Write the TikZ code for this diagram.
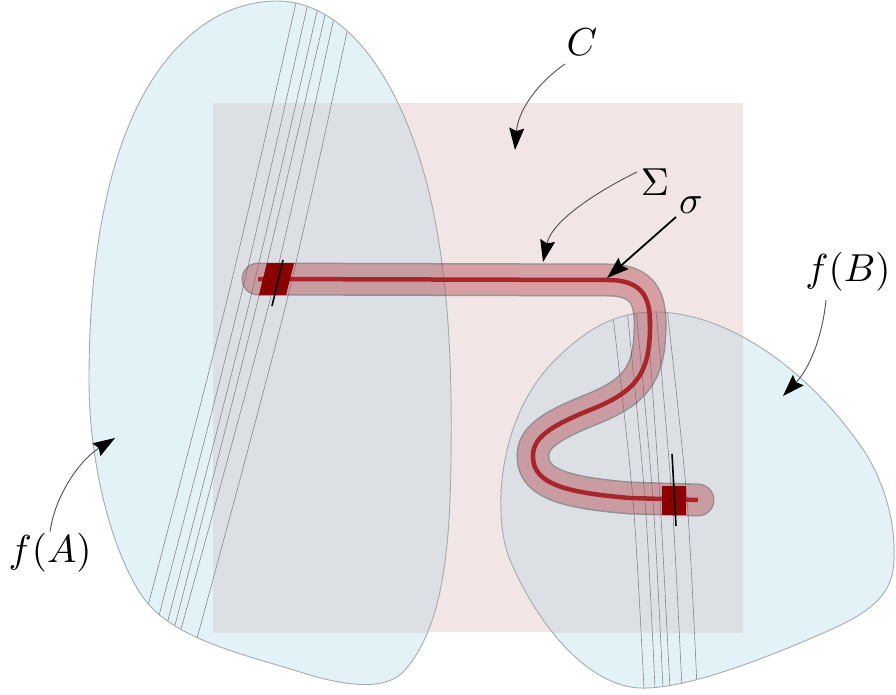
\documentclass[tikz,border=0pt]{standalone}
\usetikzlibrary{arrows.meta}
\definecolor{blobblue}{RGB}{227,242,247}
\definecolor{sqpink}{RGB}{242,229,230}
\definecolor{overlapc}{RGB}{220,224,229}
\definecolor{blobedge}{RGB}{165,170,174}
\definecolor{fibre}{RGB}{135,135,140}
\definecolor{tubefill}{RGB}{180,75,80}
\definecolor{tubeedge}{RGB}{60,45,45}
\definecolor{coreRed}{RGB}{168,38,43}
\definecolor{bandRed}{RGB}{139,0,0}
\definecolor{arrowgray}{RGB}{80,80,80}
\begin{document}
\begin{tikzpicture}[x=1pt,y=-1pt,
  lbl/.style={scale=3.9, inner sep=0pt},
  pointer/.style={draw=arrowgray, line width=0.9pt, -{Stealth[length=22pt,width=15pt,inset=3pt,color=black]}},
  strongpointer/.style={draw=black, line width=1.8pt, -{Stealth[length=22pt,width=15pt,inset=3pt]}},
  fibreline/.style={draw=fibre, line width=0.6pt},
  slash/.style={draw=black, line width=1.6pt},
  tubestyle/.style={line cap=round, line join=round}]
\useasboundingbox (0,0) rectangle (896,694);

\def\blobA{(277,1) .. controls (350,1) and (410,90) .. (435,220)
  .. controls (450,298) and (452,380) .. (451,460)
  .. controls (450,560) and (440,630) .. (405,670)
  .. controls (388,690) and (350,688) .. (300,672)
  .. controls (250,656) and (175,640) .. (145,600)
  .. controls (115,560) and (89,470) .. (89,380)
  .. controls (89,250) and (110,110) .. (185,40)
  .. controls (212,14) and (245,1) .. (277,1) -- cycle}
\def\blobB{(655,312) .. controls (720,312) and (800,360) .. (860,445)
  .. controls (880,473) and (896,515) .. (894,560)
  .. controls (893,592) and (875,610) .. (830,630)
  .. controls (785,650) and (690,690) .. (640,688)
  .. controls (590,686) and (540,630) .. (510,560)
  .. controls (493,520) and (495,420) .. (555,360)
  .. controls (590,325) and (620,312) .. (655,312) -- cycle}
\def\tubepath{(258,279) -- (610,280) .. controls (645,281) and (651,300) .. (650,330) .. controls (649,375) and (635,392) .. (590,410) .. controls (545,428) and (532,440) .. (533,458) .. controls (534,485) and (570,493) .. (630,498) -- (698,500)}

% fills
\fill[blobblue] \blobA;
\fill[blobblue] \blobB;
\fill[sqpink] (213,103) rectangle (743,632);
\begin{scope}
  \clip (213,103) rectangle (743,632);
  \fill[overlapc] \blobA;
  \fill[overlapc] \blobB;
\end{scope}

% fibres in f(A)
\begin{scope}
  \clip \blobA;
  \draw[fibreline] plot[smooth] coordinates {(300,-15) (227,300) (139,640)};
  \draw[fibreline] plot[smooth] coordinates {(312,-15) (240,300) (150,650)};
  \draw[fibreline] plot[smooth] coordinates {(323,-15) (250,300) (159,655)};
  \draw[fibreline] plot[smooth] coordinates {(332,-15) (258,300) (166,660)};
  \draw[fibreline] plot[smooth] coordinates {(341,-15) (270,300) (171,665)};
  \draw[fibreline] plot[smooth] coordinates {(357,-15) (287,300) (187,675)};
\end{scope}
% fibres in f(B)
\begin{scope}
  \clip \blobB;
  \draw[fibreline] plot[smooth] coordinates {(611,300) (633,500) (645,710)};
  \draw[fibreline] plot[smooth] coordinates {(626,300) (645,500) (656,710)};
  \draw[fibreline] plot[smooth] coordinates {(635,300) (653,500) (664,710)};
  \draw[fibreline] plot[smooth] coordinates {(646,300) (660,500) (671,710)};
  \draw[fibreline] plot[smooth] coordinates {(655,300) (672,500) (683,710)};
  \draw[fibreline] plot[smooth] coordinates {(666,300) (687,500) (698,710)};
\end{scope}

% outlines
\draw[blobedge, line width=0.9pt] \blobA;
\draw[blobedge, line width=0.9pt] \blobB;

% tube Sigma
\begin{scope}[transparency group, opacity=0.45]
  \draw[tubestyle, tubeedge, line width=33pt] \tubepath;
  \draw[tubestyle, tubefill, line width=30pt] \tubepath;
\end{scope}
\draw[coreRed, line width=4.5pt, line join=round] \tubepath;

% dark bands
\fill[bandRed] (267,263) -- (294,263) -- (286,295) -- (259,295) -- cycle;
\fill[bandRed] (662,486) rectangle (686,515);
\coordinate (sA1) at (283,260);
\coordinate (sA2) at (272,306);
\coordinate (sB1) at (672,454);
\coordinate (sB2) at (676,526);
\draw[slash] (sA1) -- (sA2);
\draw[slash] (sB1) -- (sB2);

% labels
\node[lbl] (C) at (582,42) {$C$};
\node[lbl] (Sig) at (655,182) {$\Sigma$};
\node[lbl] (sig) at (691,205) {$\sigma$};
\node[lbl] (fB) at (848,272) {$f(B)$};
\node[lbl] (fA) at (50,553) {$f(A)$};

% arrow ends
\coordinate (Cs) at (565,64);   \coordinate (Ct) at (515,150);
\coordinate (Ss) at (637,172);  \coordinate (St) at (543,262);
\coordinate (ss) at (676,217);  \coordinate (st) at (607,278);
\coordinate (Bs) at (826,300);  \coordinate (Bt) at (783,396);
\coordinate (As) at (50,532);   \coordinate (At) at (115,438);

\draw[pointer] (Cs) .. controls (535,85) and (518,112) .. (Ct);
\draw[pointer] (Ss) .. controls (600,190) and (552,220) .. (St);
\draw[strongpointer] (ss) -- (st);
\draw[pointer] (Bs) .. controls (822,340) and (808,370) .. (Bt);
\draw[pointer] (As) .. controls (55,495) and (80,460) .. (At);
\end{tikzpicture}
\end{document}
